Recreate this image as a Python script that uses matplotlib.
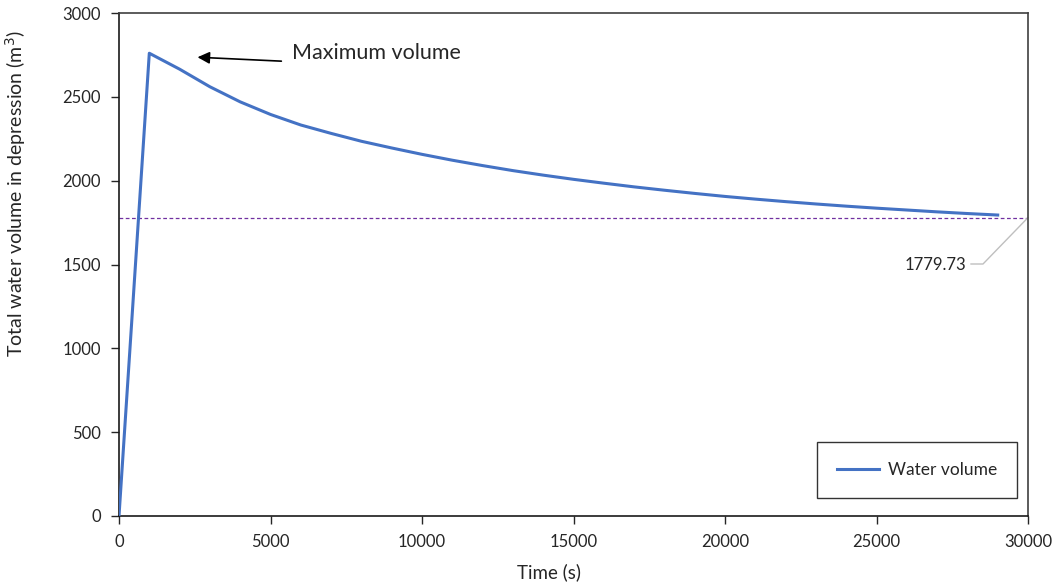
import matplotlib
matplotlib.use("Agg")
import matplotlib.pyplot as plt

# Data
time_s = [0, 1000, 2000, 3000, 4000, 5000, 6000, 7000, 8000, 9000, 10000,
          11000, 12000, 13000, 14000, 15000, 16000, 17000, 18000, 19000, 20000,
          21000, 22000, 23000, 24000, 25000, 26000, 27000, 28000, 29000]
water_volume = [0, 2760, 2665, 2560, 2470, 2395, 2332, 2282, 2235, 2195, 2157,
                2122, 2090, 2060, 2033, 2008, 1985, 1963, 1943, 1924, 1906,
                1890, 1875, 1861, 1848, 1836, 1825, 1814, 1804, 1795]
final_volume = 1779.73
x_ticks = [0, 5000, 10000, 15000, 20000, 25000, 30000]
y_ticks = [0, 500, 1000, 1500, 2000, 2500, 3000]

plt.rcParams['font.family'] = ['Lato', 'DejaVu Sans']

fig = plt.figure(figsize=(10.55, 5.84), dpi=100)
ax = fig.add_axes([119/1055, 1 - 516/584, (1028-119)/1055, (516-13)/584])

ax.plot(time_s, water_volume, color='#4472C4', lw=2.2, label='Water volume', zorder=3)
ax.axhline(final_volume, color='#7030A0', lw=0.9, ls=(0, (3, 2)), zorder=2)

ax.set_xlim(0, 30000)
ax.set_ylim(0, 3000)
ax.set_xticks(x_ticks)
ax.set_yticks(y_ticks)
ax.tick_params(direction='out', length=6, width=1, labelsize=12, colors='#262626', pad=7)
for s in ['left', 'bottom']:
    ax.spines[s].set_color('#1a1a1a')
    ax.spines[s].set_linewidth(1.2)
for s in ['top', 'right']:
    ax.spines[s].set_color('#404040')
    ax.spines[s].set_linewidth(1.2)

ax.set_xlabel('Time (s)', fontsize=13.5, color='#262626')
ax.set_ylabel('Total water volume in depression (m$^3$)', fontsize=14, color='#262626')
ax.xaxis.set_label_coords(0.473, -0.093)
ax.yaxis.set_label_coords(-0.100, 0.64)

# Maximum volume annotation
ax.annotate('', xy=(2500, 2737), xytext=(5450, 2712),
            arrowprops=dict(arrowstyle='-|>', color='black', lw=1.2, mutation_scale=18))
ax.text(5700, 2760, 'Maximum volume', fontsize=15.5, color='#262626', ha='left', va='center')

# Final value label with leader line
ax.plot([30000, 28515, 28119], [final_volume, 1503, 1503], color='#BFBFBF', lw=1.0,
        clip_on=False, zorder=2)
ax.text(27950, 1497, f'{final_volume:.2f}', fontsize=12, color='#262626', ha='right', va='center')

leg = ax.legend(loc='center', bbox_to_anchor=(0.878, 0.0915), fontsize=12.5, frameon=True,
                fancybox=False, borderpad=1.15, handlelength=2.4, handletextpad=0.5,
                borderaxespad=0)
leg.get_frame().set_edgecolor('black')
leg.get_frame().set_linewidth(1.0)
for t in leg.get_texts():
    t.set_color('#262626')

fig.savefig('out.png', dpi=100)
